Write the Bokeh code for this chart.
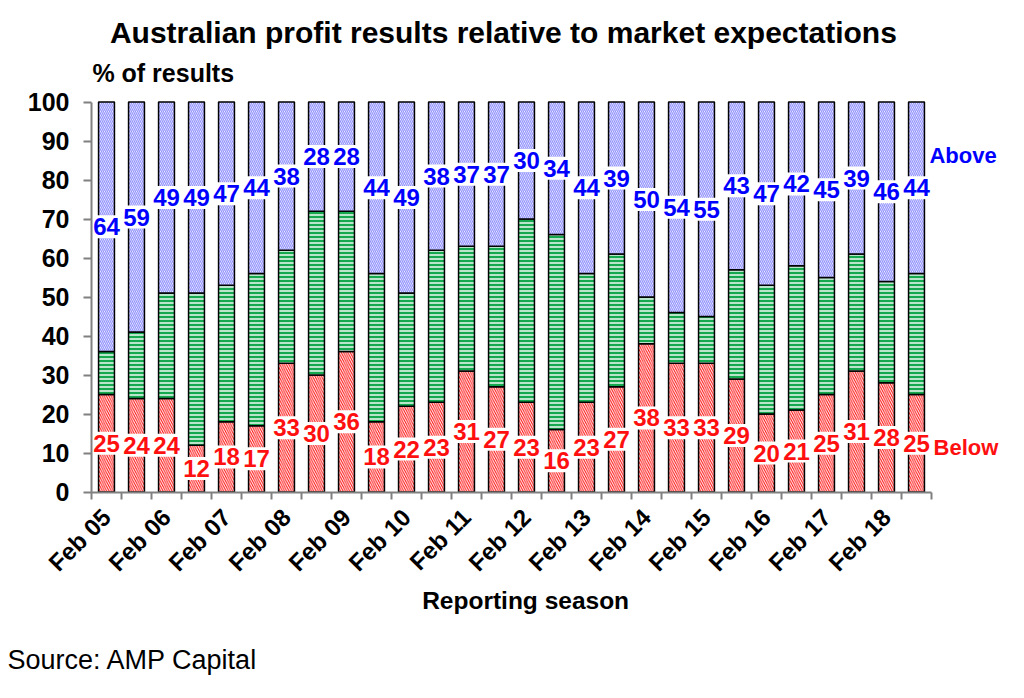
import math
from bokeh.plotting import figure
from bokeh.models import ColumnDataSource, Label, FixedTicker
from bokeh.core.properties import value
from bokeh.embed import file_html
from bokeh.resources import INLINE

# ---- data ----
seasons = ["Feb 05", "Aug 05", "Feb 06", "Aug 06", "Feb 07", "Aug 07", "Feb 08", "Aug 08",
           "Feb 09", "Aug 09", "Feb 10", "Aug 10", "Feb 11", "Aug 11", "Feb 12", "Aug 12",
           "Feb 13", "Aug 13", "Feb 14", "Aug 14", "Feb 15", "Aug 15", "Feb 16", "Aug 16",
           "Feb 17", "Aug 17", "Feb 18", "Aug 18"]
below = [25, 24, 24, 12, 18, 17, 33, 30, 36, 18, 22, 23, 31, 27, 23, 16, 23, 27, 38, 33,
         33, 29, 20, 21, 25, 31, 28, 25]
above = [64, 59, 49, 49, 47, 44, 38, 28, 28, 44, 49, 38, 37, 37, 30, 34, 44, 39, 50, 54,
         55, 43, 47, 42, 45, 39, 46, 44]
y_ticks = [0, 10, 20, 30, 40, 50, 60, 70, 80, 90, 100]

FONT = "Liberation Sans"
RED = "#ff1010"
GREEN = "#16a84e"
BLUE_HATCH = "#9494ff"
BLUE_TXT = "#0000ff"

n = len(seasons)
xs = list(range(n))
inline = [100 - b - a for b, a in zip(below, above)]
mid_top = [b + m for b, m in zip(below, inline)]
src = ColumnDataSource(dict(
    x=xs, below=below, above=above, inline=inline, mid_top=mid_top,
    top100=[100] * n, zero=[0] * n,
    below_y=[b / 2 for b in below],
    above_y=[100 - a / 2 for a in above],
    below_txt=[str(v) for v in below],
    above_txt=[str(v) for v in above],
))

# frame covers the whole canvas; axes are pinned at data positions
FW, FH = 1008, 682
X0PX, PXX = 91, 30.0        # px of x=-0.5, px per category
Y0PX, PXY = 491.5, 3.9      # px (from top) of y=0, px per percent
x_lo = -0.5 - X0PX / PXX
x_hi = -0.5 + (FW - X0PX) / PXX
y_hi = Y0PX / PXY
y_lo = -(FH - Y0PX) / PXY

p = figure(width=FW, height=FH, x_range=(x_lo, x_hi), y_range=(y_lo, y_hi),
           output_backend="svg", toolbar_location=None,
           min_border=0, min_border_left=0, min_border_right=0,
           min_border_top=0, min_border_bottom=0)
p.outline_line_color = None
p.xgrid.visible = False
p.ygrid.visible = False
p.background_fill_color = "white"
p.border_fill_color = "white"

W = 0.53
p.vbar(x="x", bottom="zero", top="below", width=W, source=src, fill_color=RED,
       line_color="black", line_width=1.5, hatch_pattern="\\", hatch_color="white",
       hatch_scale=4.5, hatch_weight=1.0)
p.vbar(x="x", bottom="below", top="mid_top", width=W, source=src, fill_color=GREEN,
       line_color="black", line_width=1.5, hatch_pattern="-", hatch_color="white",
       hatch_scale=4, hatch_weight=1.4)
p.vbar(x="x", bottom="mid_top", top="top100", width=W, source=src, fill_color="white",
       line_color="black", line_width=1.5, hatch_pattern="\\", hatch_color=BLUE_HATCH,
       hatch_scale=4, hatch_weight=1.3)

# value labels with white boxes
for ycol, tcol, col in [("below_y", "below_txt", RED), ("above_y", "above_txt", BLUE_TXT)]:
    p.text(x="x", y=ycol, text=tcol, source=src, text_align="center",
           text_baseline="middle", text_font=value(FONT), text_font_style="bold",
           text_font_size="24px", text_color=col, background_fill_color="white",
           padding=3)

# axes
yax = p.yaxis[0]
yax.fixed_location = -0.5
yax.bounds = (0, 100)
yax.ticker = FixedTicker(ticks=y_ticks, minor_ticks=[])
yax.major_label_text_font = FONT
yax.major_label_text_font_style = "bold"
yax.major_label_text_font_size = "25px"
yax.major_label_text_color = "black"
yax.major_tick_out = 8
yax.major_tick_in = 0
yax.major_label_standoff = 14
yax.axis_line_color = "#808080"
yax.axis_line_width = 2
yax.major_tick_line_color = "#808080"
yax.major_tick_line_width = 2

xax = p.xaxis[0]
xax.fixed_location = 0
xax.bounds = (-0.5, n - 0.5)
label_pos = list(range(0, n, 2))
xax.ticker = FixedTicker(ticks=label_pos, minor_ticks=[k - 0.5 for k in range(n + 1)])
xax.major_label_overrides = {i: seasons[i] for i in label_pos}
xax.major_label_orientation = math.pi / 4
xax.major_label_text_font = FONT
xax.major_label_text_font_style = "bold"
xax.major_label_text_font_size = "24px"
xax.major_label_text_color = "black"
xax.major_tick_out = 0
xax.major_tick_in = 0
xax.major_tick_line_color = None
xax.minor_tick_out = 7
xax.minor_tick_in = 0
xax.minor_tick_line_color = "#808080"
xax.minor_tick_line_width = 2
xax.major_label_standoff = 14
xax.axis_line_color = "#808080"
xax.axis_line_width = 2

def add_text(x, y, text, size, color="black", style="bold", align="left"):
    p.add_layout(Label(x=x, y=y, text=text, text_font=FONT, text_font_style=style,
                       text_font_size=size, text_color=color, text_align=align,
                       text_baseline="middle"))

add_text(13.23, 117.9, "Australian profit results relative to market expectations", "30px", align="center")
add_text(-0.47, 107.4, "% of results", "25px")
add_text(27.43, 86.4, "Above", "22px", color=BLUE_TXT)
add_text(27.57, 11.5, "Below", "22px", color=RED)
add_text(13.97, -27.7, "Reporting season", "24.5px", align="center")
add_text(-3.3, -43.1, "Source: AMP Capital", "27px", style="normal")

open("out.html", "w").write(file_html(p, INLINE))
